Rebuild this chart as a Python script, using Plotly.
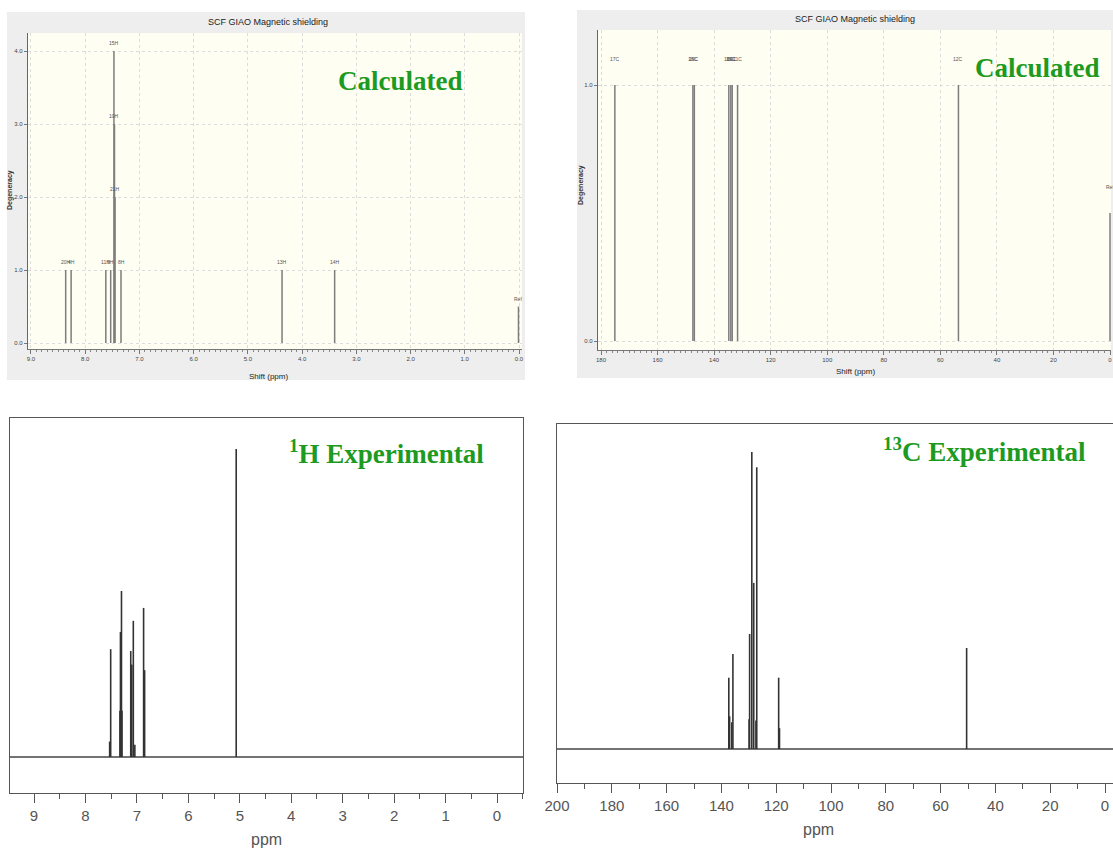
import plotly.graph_objects as go

W, H = 1113, 850

# ---------------- data ----------------
# Calculated 1H (GIAO) : shift (ppm), degeneracy, atom label
calc_h_shift = [8.36, 8.26, 7.62, 7.53, 7.47, 7.46, 7.45, 7.34, 4.37, 3.40, 0.01]
calc_h_deg = [1.0, 1.0, 1.0, 1.0, 4.0, 3.0, 2.0, 1.0, 1.0, 1.0, 0.5]
calc_h_label = ["20H", "4H", "11H", "9H", "15H", "10H", "21H", "8H", "13H", "14H", "Ref"]

# Calculated 13C (GIAO)
calc_c_shift = [175.1, 147.5, 147.0, 134.8, 134.1, 133.6, 131.7, 53.6, 0.0]
calc_c_deg = [1.0, 1.0, 1.0, 1.0, 1.0, 1.0, 1.0, 1.0, 0.5]
calc_c_label = ["17C", "18C", "19C", "16C", "15C", "14C", "11C", "12C", "Ref"]

# Experimental 1H : peak position (ppm), relative intensity
exp_h_shift = [7.53, 7.51, 7.33, 7.32, 7.30, 7.29, 7.12, 7.10, 7.07, 7.04, 6.87, 6.85, 5.07]
exp_h_int = [5.0, 35.0, 15.0, 40.6, 53.9, 15.0, 34.4, 30.0, 44.2, 4.0, 48.4, 28.2, 100.0]

# Experimental 13C
exp_c_shift = [137.3, 137.0, 136.2, 135.8, 129.9, 129.7, 128.9, 128.2, 127.4, 127.1, 119.1, 118.8, 50.5]
exp_c_int = [24.0, 11.0, 9.0, 32.0, 10.0, 38.7, 100.0, 55.9, 9.6, 94.8, 24.0, 7.0, 34.0]

h_ticks = [9, 8, 7, 6, 5, 4, 3, 2, 1, 0]
c_ticks_calc = [180, 160, 140, 120, 100, 80, 60, 40, 20, 0]
c_ticks_exp = [200, 180, 160, 140, 120, 100, 80, 60, 40, 20, 0]

# ---------------- helpers ----------------
def px(x):
    return x / W

def py(y):
    return 1 - y / H

def sticks(xs, hs):
    X, Y = [], []
    for x, h in zip(xs, hs):
        X += [x, x, None]
        Y += [0, h, None]
    return X, Y

GREEN = "#1d9a22"
fig = go.Figure()

# --- calculated 1H ---
X, Y = sticks(calc_h_shift, calc_h_deg)
fig.add_trace(go.Scatter(x=X, y=Y, mode="lines", line=dict(color="#7d7d7d", width=1.5),
                         xaxis="x", yaxis="y", hoverinfo="skip", showlegend=False))
# --- calculated 13C ---
X, Y = sticks(calc_c_shift, calc_c_deg)
fig.add_trace(go.Scatter(x=X, y=Y, mode="lines", line=dict(color="#7d7d7d", width=1.5),
                         xaxis="x2", yaxis="y2", hoverinfo="skip", showlegend=False))
# --- experimental 1H ---
h_range = [9.467, -0.505]
fig.add_trace(go.Scatter(x=h_range, y=[0, 0], mode="lines", line=dict(color="#444", width=1.3),
                         xaxis="x3", yaxis="y3", hoverinfo="skip", showlegend=False))
X, Y = sticks(exp_h_shift, exp_h_int)
fig.add_trace(go.Scatter(x=X, y=Y, mode="lines", line=dict(color="#333", width=1.6),
                         xaxis="x3", yaxis="y3", hoverinfo="skip", showlegend=False))
# --- experimental 13C ---
c_range = [200, -2.92]
fig.add_trace(go.Scatter(x=c_range, y=[0, 0], mode="lines", line=dict(color="#444", width=1.3),
                         xaxis="x4", yaxis="y4", hoverinfo="skip", showlegend=False))
X, Y = sticks(exp_c_shift, exp_c_int)
fig.add_trace(go.Scatter(x=X, y=Y, mode="lines", line=dict(color="#333", width=1.6),
                         xaxis="x4", yaxis="y4", hoverinfo="skip", showlegend=False))

small = dict(family="Liberation Sans Narrow, Arial Narrow, Liberation Sans", size=6, color="#444")

calc_x_common = dict(showline=True, linecolor="#777", linewidth=1, ticks="outside", ticklen=4,
                     tickcolor="#777", tickfont=small, zeroline=False,
                     showgrid=True, gridcolor="#dcdcdc", griddash="dot", gridwidth=1)
calc_y_common = dict(showline=True, linecolor="#666", linewidth=1.2, ticks="outside", ticklen=3,
                     tickcolor="#777", tickfont=small, zeroline=False,
                     showgrid=True, gridcolor="#dcdcdc", griddash="dot", gridwidth=1)

exp_font = dict(family="Liberation Sans, Arial", size=15, color="#555")
exp_x_common = dict(showline=True, mirror=True, linecolor="#555", linewidth=1.2, ticks="outside",
                    ticklen=9, tickcolor="#555", tickfont=exp_font, zeroline=False, showgrid=False,
                    tickmode="array")
exp_y_common = dict(showline=True, mirror=True, linecolor="#555", linewidth=1.2, ticks="",
                    showticklabels=False, zeroline=False, showgrid=False)

fig.update_layout(
    width=W, height=H, margin=dict(l=0, r=0, t=0, b=0, pad=0, autoexpand=False),
    paper_bgcolor="white", plot_bgcolor="rgba(0,0,0,0)",
    xaxis=dict(domain=[px(28), px(522)], range=[9.055, -0.055], anchor="y",
               tickmode="array", tickvals=h_ticks, ticktext=[f"{v:.1f}" for v in h_ticks],
               minor=dict(ticks="outside", ticklen=2, dtick=0.1, tick0=0, tickcolor="#888", showgrid=False),
               **calc_x_common),
    yaxis=dict(domain=[py(349), py(33)], range=[-0.082, 4.247], anchor="x",
               tickmode="array", tickvals=[0, 1, 2, 3, 4], ticktext=["0.0", "1.0", "2.0", "3.0", "4.0"],
               **calc_y_common),
    xaxis2=dict(domain=[px(598), px(1111)], range=[181.06, -0.35], anchor="y2",
                tickmode="array", tickvals=c_ticks_calc, ticktext=[str(v) for v in c_ticks_calc],
                minor=dict(ticks="outside", ticklen=2, dtick=2, tick0=0, tickcolor="#888", showgrid=False),
                **calc_x_common),
    yaxis2=dict(domain=[py(350), py(30)], range=[-0.035, 1.215], anchor="x2",
                tickmode="array", tickvals=[0, 1], ticktext=["0.0", "1.0"],
                **calc_y_common),
    xaxis3=dict(domain=[px(10), px(523)], range=h_range, anchor="y3",
                tickvals=h_ticks, ticktext=[str(v) for v in h_ticks],
                minor=dict(ticks="outside", ticklen=5, dtick=0.5, tick0=0, tickcolor="#555"),
                **exp_x_common),
    yaxis3=dict(domain=[py(793), py(418)], range=[-11.69, 110.06], anchor="x3", **exp_y_common),
    xaxis4=dict(domain=[px(557), 1.0], range=c_range, anchor="y4",
                tickvals=c_ticks_exp, ticktext=[str(v) for v in c_ticks_exp],
                minor=dict(ticks="outside", ticklen=5, dtick=10, tick0=0, tickcolor="#555"),
                **exp_x_common),
    yaxis4=dict(domain=[py(783), py(424)], range=[-11.45, 109.4], anchor="x4", **exp_y_common),
)

# background boxes
shapes = [
    dict(type="rect", xref="paper", yref="paper", x0=px(7), x1=px(525), y0=py(380), y1=py(12),
         fillcolor="#eeeeee", line=dict(width=0), layer="below"),
    dict(type="rect", xref="paper", yref="paper", x0=px(577), x1=1.0, y0=py(378), y1=py(10),
         fillcolor="#eeeeee", line=dict(width=0), layer="below"),
    dict(type="rect", xref="x domain", yref="y domain", x0=0, x1=1, y0=0, y1=1,
         fillcolor="#fffef3", line=dict(width=0), layer="below"),
    dict(type="rect", xref="x2 domain", yref="y2 domain", x0=0, x1=1, y0=0, y1=1,
         fillcolor="#fffef3", line=dict(width=0), layer="below"),
]
fig.update_layout(shapes=shapes)

ann = []
lab_font = dict(family="Liberation Sans Narrow, Arial Narrow, Liberation Sans", size=5, color="#555")
for x, h, t in zip(calc_h_shift, calc_h_deg, calc_h_label):
    ann.append(dict(x=x, y=h, xref="x", yref="y", text=t, showarrow=False, yshift=8,
                    xanchor="center", yanchor="middle", font=lab_font))
for x, h, t in zip(calc_c_shift, calc_c_deg, calc_c_label):
    ann.append(dict(x=x, y=h, xref="x2", yref="y2", text=t, showarrow=False, yshift=26,
                    xanchor="center", yanchor="middle", font=lab_font))

title_font = dict(family="Liberation Sans Narrow, Arial Narrow, Liberation Sans", size=9, color="#222")
serif = dict(family="Liberation Serif, Times New Roman", size=27, color=GREEN)
ann += [
    dict(x=px(268), y=py(22), text="SCF GIAO Magnetic shielding", font=title_font),
    dict(x=px(855), y=py(19), text="SCF GIAO Magnetic shielding", font=title_font),
    dict(x=px(268), y=py(376), text="Shift (ppm)", font=dict(title_font, size=8)),
    dict(x=px(855), y=py(371), text="Shift (ppm)", font=dict(title_font, size=8)),
    dict(x=px(10), y=py(190), text="<b>Degeneracy</b>", textangle=-90,
         font=dict(family="Liberation Sans", size=7, color="#333")),
    dict(x=px(581), y=py(185), text="<b>Degeneracy</b>", textangle=-90,
         font=dict(family="Liberation Sans", size=7, color="#333")),
    dict(x=px(400), y=py(81), text="<b>Calculated</b>", font=serif),
    dict(x=px(1037), y=py(68), text="<b>Calculated</b>", font=serif),
    dict(x=px(386), y=py(452), text="<b><sup>1</sup>H Experimental</b>", font=serif),
    dict(x=px(984), y=py(450), text="<b><sup>13</sup>C Experimental</b>", font=serif),
    dict(x=px(266), y=py(839), text="ppm", font=dict(family="Liberation Sans, Arial", size=16, color="#555")),
    dict(x=px(818), y=py(829), text="ppm", font=dict(family="Liberation Sans, Arial", size=16, color="#555")),
]
for a in ann[-12:]:
    a.update(xref="paper", yref="paper", showarrow=False, xanchor="center", yanchor="middle")
fig.update_layout(annotations=ann)

fig.write_html("out.html")
